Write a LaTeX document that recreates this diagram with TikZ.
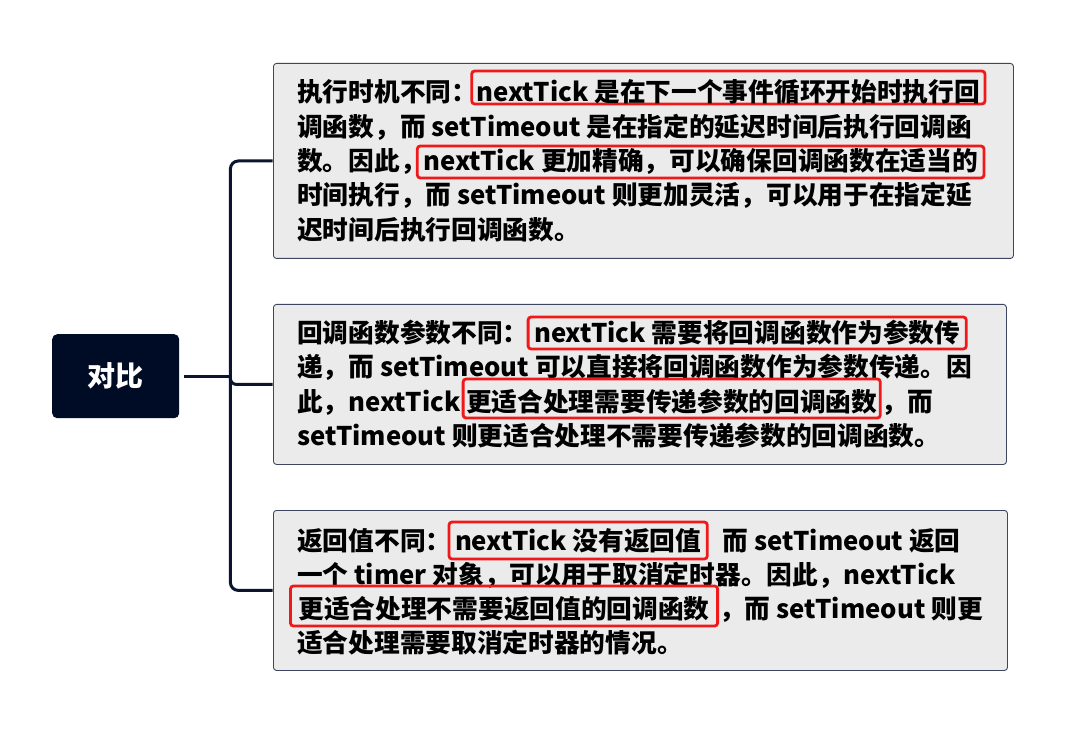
\documentclass[tikz,border=0pt]{standalone}
\usepackage{fontspec}
\setmainfont{Noto Sans CJK SC}
\definecolor{navy}{HTML}{000C26}
\definecolor{linkc}{HTML}{0B1530}
\definecolor{boxfill}{HTML}{EBEBEB}
\definecolor{boxline}{HTML}{3C4660}
\definecolor{hlred}{HTML}{F01818}
\begin{document}
\begin{tikzpicture}[x=1pt,y=-1pt,
  card/.style={draw=boxline, line width=0.9pt, fill=boxfill, rounded corners=3pt, anchor=north west, inner sep=0pt},
  rootbox/.style={fill=navy, rounded corners=5pt, anchor=north west, text=white, font=\bfseries\fontsize{28}{32}\selectfont, minimum width=127pt, minimum height=84pt},
  txt/.style={anchor=base west, inner sep=0pt, font=\bfseries\fontsize{25.7}{34}\selectfont, text=black},
  hl/.style={txt, draw=hlred, line width=2.8pt, rounded corners=3pt, inner xsep=6pt, inner ysep=0pt, text height=27pt, text depth=8pt},
  link/.style={draw=linkc, line width=3pt}]
\fill[white] (0,0) rectangle (1077,751);
\useasboundingbox (0,0) rectangle (1077,751);

% root and cards
\node[rootbox] (root) at (52,334) {对比};
\node[card, minimum width=740pt, minimum height=195pt] (b1) at (273,63) {};
\node[card, minimum width=733pt, minimum height=160pt] (b2) at (273,304) {};
\node[card, minimum width=734pt, minimum height=160pt] (b3) at (273,510) {};

% connectors
\path (root.east) ++(51,0) coordinate (j);
\draw[link, shorten <=5pt] (root.east) -- (j);
\draw[link, rounded corners=8pt] (j) |- ([xshift=-0.5pt]b1.west);
\draw[link, rounded corners=6pt] (j) |- ([xshift=-0.5pt]b2.west);
\draw[link, rounded corners=8pt] (j) |- ([xshift=-0.5pt]b3.west);

% card 1
\node[txt] (a11) at (297,102) {执行时机不同：};
\node[hl, text height=31pt, text depth=2pt, inner xsep=5pt] (h11) at ([xshift=-7pt]a11.base east) {nextTick 是在下一个事件循环开始时执行回};
\node[txt] (a12) at (297,137) {调函数，而 setTimeout 是在指定的延迟时间后执行回调函};
\node[txt] (a13) at (297,171) {数。因此，};
\node[hl, text height=25pt, text depth=7pt] (h13) at ([xshift=-10pt]a13.base east) {nextTick 更加精确，可以确保回调函数在适当的};
\node[txt] (a14) at (297,205) {时间执行，而 setTimeout 则更加灵活，可以用于在指定延};
\node[txt] (a15) at (297,240) {迟时间后执行回调函数。};

% card 2
\node[txt] (a21) at (297,343) {回调函数参数不同：};
\node[hl, text height=26pt, text depth=6pt] (h21) at ([xshift=-2pt]a21.base east) {nextTick 需要将回调函数作为参数传};
\node[txt] (a22) at (297,377) {递，而 setTimeout 可以直接将回调函数作为参数传递。因};
\node[txt] (a23) at (297,412) {此，nextTick};
\node[hl, text height=33pt, text depth=6pt, inner xsep=3pt] (h23) at ([xshift=1pt]a23.base east) {更适合处理需要传递参数的回调函数};
\node[txt] (a23b) at (h23.base east) {，而};
\node[txt] (a24) at (297,446) {setTimeout 则更适合处理不需要传递参数的回调函数。};

% card 3
\node[txt] (a31) at (297,550) {返回值不同：};
\node[hl, text height=28pt, text depth=9pt] (h31) at ([xshift=-4pt]a31.base east) {nextTick 没有返回值};
\node[txt] (a31b) at ([xshift=14pt]h31.base east) {而 setTimeout 返回};
\node[txt] (a32) at (297,584) {一个 timer 对象，可以用于取消定时器。因此，nextTick};
\node[hl, text height=32pt, text depth=8pt, inner xsep=8pt] (h33) at (289,618) {更适合处理不需要返回值的回调函数};
\node[txt] (a33b) at (h33.base east) {，而 setTimeout 则更};
\node[txt] (a34) at (297,652) {适合处理需要取消定时器的情况。};
\end{tikzpicture}
\end{document}
